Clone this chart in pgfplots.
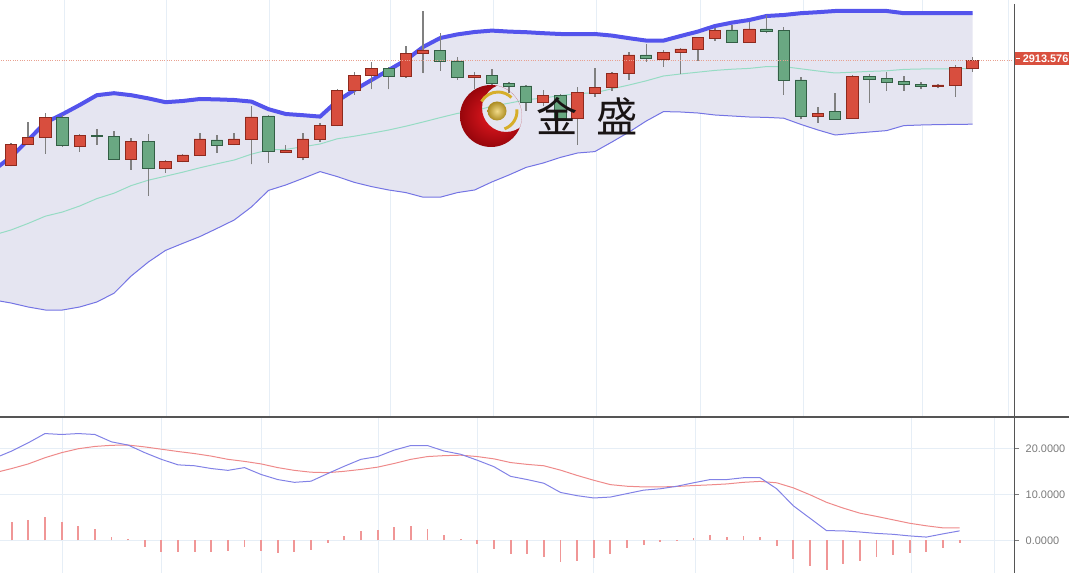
\documentclass[border=0pt]{standalone}
\usepackage{pgfplots}
\pgfplotsset{compat=1.18}
\usepackage{pgfplotstable}
\usepgfplotslibrary{fillbetween}
\usepackage{fontspec}
\setmainfont{Liberation Sans}
\newfontfamily\cjk{Noto Sans CJK SC}

\definecolor{upc}{HTML}{D84E3E}
\definecolor{upd}{HTML}{8E2A1E}
\definecolor{dnc}{HTML}{6AA882}
\definecolor{dnd}{HTML}{335F45}
\definecolor{wickc}{HTML}{808080}
\definecolor{bandu}{HTML}{5454EC}
\definecolor{bandl}{HTML}{7474E4}
\definecolor{bandm}{HTML}{96DCC4}
\definecolor{bandf}{HTML}{E5E5F1}
\definecolor{gridc}{HTML}{E6EEF6}
\definecolor{axc}{HTML}{555555}
\definecolor{pricec}{HTML}{E8A090}
\definecolor{labc}{HTML}{D9503F}
\definecolor{difc}{HTML}{8282E6}
\definecolor{deac}{HTML}{EE8A8A}
\definecolor{histc}{HTML}{F09696}
\definecolor{tickc}{HTML}{7A7A7A}
\definecolor{goldc}{HTML}{D6AE2A}
\definecolor{goldball}{HTML}{E8C23A}
\definecolor{logored}{HTML}{EC1A22}
\definecolor{logodark}{HTML}{98060C}

% candles: index, open, high, low, close
\pgfplotstableread{
i open high low close
-1 2857.6 2868.6 2852.1 2866.1
0 2860.8 2871.9 2860.4 2871.5
1 2871.5 2882.5 2871.1 2875.0
2 2875.0 2887.3 2866.6 2885.0
3 2885.0 2886.1 2870.3 2870.8
4 2870.5 2876.6 2867.8 2876.0
5 2876.0 2879.1 2871.3 2875.3
6 2875.5 2878.3 2863.6 2864.0
7 2864.0 2874.5 2858.6 2872.8
8 2872.8 2876.6 2845.8 2859.5
9 2859.5 2863.4 2857.3 2863.0
10 2862.8 2866.5 2862.5 2866.1
11 2865.8 2877.3 2865.5 2874.1
12 2873.6 2876.1 2867.3 2870.8
13 2871.3 2877.1 2871.0 2874.1
14 2874.1 2890.6 2861.4 2885.1
15 2885.6 2886.1 2862.3 2867.8
16 2867.6 2871.1 2867.4 2868.5
17 2865.1 2877.0 2863.5 2874.1
18 2874.1 2882.0 2872.8 2881.0
19 2880.8 2899.0 2880.5 2898.3
20 2898.3 2907.5 2896.1 2906.0
21 2905.8 2912.5 2899.0 2909.5
22 2909.5 2910.3 2899.0 2905.5
23 2905.3 2920.6 2904.8 2917.0
24 2917.0 2938.3 2907.0 2918.6
25 2918.3 2927.0 2908.1 2913.1
26 2913.1 2915.0 2903.6 2905.0
27 2905.0 2907.8 2899.0 2905.8
28 2905.8 2909.1 2900.3 2902.0
29 2902.0 2902.8 2897.3 2900.5
30 2900.6 2901.1 2888.1 2892.5
31 2892.5 2898.6 2890.6 2896.0
32 2896.0 2896.5 2883.6 2884.5
33 2884.5 2900.0 2871.1 2897.3
34 2897.1 2909.5 2895.3 2900.0
35 2900.0 2907.6 2898.1 2907.0
36 2907.0 2917.5 2903.6 2916.1
37 2916.1 2921.6 2912.6 2914.3
38 2914.0 2918.6 2910.3 2917.3
39 2917.3 2919.8 2906.6 2919.1
40 2919.0 2925.3 2913.1 2925.0
41 2924.5 2929.5 2923.3 2928.3
42 2928.6 2931.1 2922.1 2922.6
43 2922.6 2932.8 2922.1 2929.1
44 2929.1 2936.1 2927.0 2928.0
45 2928.3 2930.0 2896.1 2903.6
46 2903.6 2905.0 2884.0 2885.3
47 2885.3 2890.0 2882.3 2887.0
48 2887.8 2897.0 2883.9 2884.1
49 2884.5 2906.1 2884.2 2905.3
50 2905.3 2906.6 2892.3 2904.0
51 2904.3 2907.8 2898.1 2902.6
52 2903.0 2905.6 2898.1 2901.5
53 2901.5 2902.8 2899.0 2900.6
54 2900.3 2901.4 2899.5 2901.1
55 2901.1 2911.1 2895.3 2909.8
56 2909.5 2915.3 2907.8 2913.576
}\ohlc

% rising candles (red)
\pgfplotstableread{
i open close
-1 2857.6 2866.1
0 2860.8 2871.5
1 2871.5 2875.0
2 2875.0 2885.0
4 2870.5 2876.0
7 2864.0 2872.8
9 2859.5 2863.0
10 2862.8 2866.1
11 2865.8 2874.1
13 2871.3 2874.1
14 2874.1 2885.1
16 2867.6 2868.5
17 2865.1 2874.1
18 2874.1 2881.0
19 2880.8 2898.3
20 2898.3 2906.0
21 2905.8 2909.5
23 2905.3 2917.0
24 2917.0 2918.6
27 2905.0 2905.8
31 2892.5 2896.0
33 2884.5 2897.3
34 2897.1 2900.0
35 2900.0 2907.0
36 2907.0 2916.1
38 2914.0 2917.3
39 2917.3 2919.1
40 2919.0 2925.0
41 2924.5 2928.3
43 2922.6 2929.1
47 2885.3 2887.0
49 2884.5 2905.3
54 2900.3 2901.1
55 2901.1 2909.8
56 2909.5 2913.576
}\up

% falling candles (green)
\pgfplotstableread{
i open close
3 2885.0 2870.8
5 2876.0 2875.3
6 2875.5 2864.0
8 2872.8 2859.5
12 2873.6 2870.8
15 2885.6 2867.8
22 2909.5 2905.5
25 2918.3 2913.1
26 2913.1 2905.0
28 2905.8 2902.0
29 2902.0 2900.5
30 2900.6 2892.5
32 2896.0 2884.5
37 2916.1 2914.3
42 2928.6 2922.6
44 2929.1 2928.0
45 2928.3 2903.6
46 2903.6 2885.3
48 2887.8 2884.1
50 2905.3 2904.0
51 2904.3 2902.6
52 2903.0 2901.5
53 2901.5 2900.6
}\down

% Bollinger bands: upper, middle, lower
\pgfplotstableread{
i u m l
-1 2858.6 2826.1 2793.6
0 2865.1 2828.6 2792.1
1 2873.6 2831.9 2790.1
2 2882.3 2835.5 2788.6
3 2886.5 2837.6 2788.6
4 2891.1 2840.6 2790.1
5 2896.0 2844.3 2792.6
6 2897.0 2847.0 2797.0
7 2896.0 2850.8 2805.6
8 2894.4 2853.5 2812.6
9 2892.5 2855.5 2818.4
10 2893.1 2857.5 2821.9
11 2894.1 2859.7 2825.3
12 2893.9 2861.7 2829.4
13 2893.6 2863.6 2833.6
14 2892.8 2866.5 2840.1
15 2889.0 2868.7 2848.4
16 2886.6 2868.9 2851.1
17 2886.0 2870.2 2854.4
18 2885.3 2871.6 2857.8
19 2893.1 2874.2 2855.3
20 2898.6 2875.5 2852.4
21 2903.6 2877.0 2850.3
22 2908.6 2878.6 2848.6
23 2913.6 2880.5 2847.3
24 2920.1 2882.6 2845.0
25 2924.6 2884.8 2845.0
26 2926.4 2886.9 2847.3
27 2927.6 2888.1 2848.6
28 2928.3 2890.5 2852.6
29 2927.8 2892.0 2856.1
30 2927.5 2893.7 2859.9
31 2927.0 2894.6 2862.1
32 2926.6 2895.8 2864.9
33 2926.5 2896.8 2867.1
34 2926.6 2897.2 2867.8
35 2925.8 2899.2 2872.6
36 2924.5 2901.1 2877.6
37 2923.3 2903.2 2883.1
38 2923.3 2905.6 2887.8
39 2925.6 2906.6 2887.6
40 2927.8 2907.5 2887.1
41 2930.6 2908.4 2886.1
42 2932.3 2909.0 2885.6
43 2933.6 2909.4 2885.1
44 2935.6 2910.3 2884.9
45 2936.1 2910.3 2884.5
46 2937.0 2909.2 2881.4
47 2937.5 2908.1 2878.6
48 2938.1 2907.1 2876.1
49 2938.1 2907.5 2876.9
50 2938.1 2907.9 2877.6
51 2938.1 2908.2 2878.3
52 2937.0 2908.9 2880.8
53 2937.0 2909.1 2881.1
54 2937.0 2909.2 2881.3
55 2937.0 2909.2 2881.4
56 2937.0 2909.3 2881.5
}\bands

% MACD: dif, dea, histogram
\pgfplotstableread{
j dif dea hist
-1 17.9 14.7 3.2
0 19.4 15.6 3.94
1 21.2 16.6 4.45
2 23.2 17.95 4.96
3 23.0 19.05 3.94
4 23.2 19.9 3.2
5 23.0 20.4 2.4
6 21.4 20.65 0.8
7 20.7 20.7 0.2
8 19.05 20.3 -1.4
9 17.6 19.8 -2.5
10 16.4 19.3 -2.6
11 16.2 18.85 -2.5
12 15.6 18.3 -2.5
13 15.2 17.6 -2.25
14 15.8 17.15 -1.45
15 14.3 16.6 -2.25
16 13.2 15.8 -2.85
17 12.6 15.2 -2.6
18 12.85 14.8 -2.1
19 14.5 14.7 -0.5
20 16.1 15.0 0.95
21 17.6 15.4 2.05
22 18.2 15.9 2.2
23 19.6 16.7 2.8
24 20.6 17.6 3.0
25 20.6 18.2 2.4
26 19.4 18.4 1.15
27 18.7 18.5 0.2
28 17.4 18.2 -0.9
29 16.0 17.7 -1.9
30 13.9 16.9 -3.05
31 13.2 16.5 -3.0
32 12.4 16.2 -3.6
33 10.4 15.25 -4.8
34 9.7 14.1 -4.4
35 9.2 13.05 -3.8
36 9.4 12.1 -3.0
37 10.15 11.75 -1.6
38 10.9 11.6 -1.0
39 11.2 11.6 -0.45
40 11.75 11.7 0.05
41 12.5 11.9 0.6
42 13.2 12.05 1.15
43 13.2 12.25 0.8
44 13.6 12.6 0.95
45 13.6 12.8 0.8
46 11.2 12.5 -1.15
47 7.5 11.4 -4.0
48 4.8 9.9 -5.55
49 2.1 8.25 -6.35
50 2.05 7.0 -5.2
51 1.8 5.9 -4.4
52 1.5 5.2 -3.6
53 1.3 4.45 -3.2
54 0.95 3.7 -2.85
55 0.7 3.15 -2.6
56 1.4 2.7 -1.6
57 2.05 2.7 -0.65
}\macd

\pgfplotsset{
  upperax/.style={at={(0pt,0pt)}, anchor=north west, scale only axis,
    width=760.5pt, height=312pt,
    xmin=-0.641, xmax=58.416, ymin=2735.6, ymax=2943.6},
}

\begin{document}
\begin{tikzpicture}
% ---------- upper panel: grid, bands, wicks ----------
\begin{axis}[upperax,
  axis line style={draw=none},
  xtick={3.1,9.03,15.04,22.11,28.09,34.11,40.13,46.14,53.1,58.07},
  xticklabels={}, ytick=\empty,
  xmajorgrids, major grid style={gridc, line width=0.75pt},
  major tick length=0pt]
\addplot[draw=none, name path=U, forget plot] table[x=i, y=u]{\bands};
\addplot[draw=none, name path=L, forget plot] table[x=i, y=l]{\bands};
\addplot[fill=bandf, draw=none] fill between[of=U and L];
\addplot[bandm, line width=0.75pt] table[x=i, y=m]{\bands};
\addplot[bandl, line width=0.75pt] table[x=i, y=l]{\bands};
\addplot[bandu, line width=3pt] table[x=i, y=u]{\bands};
\addplot[only marks, mark=*, mark size=0pt, mark options={draw=none, fill=none},
  error bars/.cd, y dir=plus, y explicit, error mark=none,
  error bar style={draw=wickc, line width=1.1pt}]
  table[x=i, y=low, y error expr=\thisrow{high}-\thisrow{low}]{\ohlc};
\end{axis}
% ---------- rising bodies ----------
\begin{axis}[upperax, hide axis, ybar stacked, bar width=0.66]
\addplot[draw=none, fill=none] table[x=i, y=open]{\up};
\addplot[fill=upc, draw=upd, line width=0.7pt] table[x=i, y expr=\thisrow{close}-\thisrow{open}]{\up};
\end{axis}
% ---------- falling bodies ----------
\begin{axis}[upperax, hide axis, ybar stacked, bar width=0.66]
\addplot[draw=none, fill=none] table[x=i, y=close]{\down};
\addplot[fill=dnc, draw=dnd, line width=0.7pt] table[x=i, y expr=\thisrow{open}-\thisrow{close}]{\down};
\end{axis}
% ---------- last price line ----------
\begin{axis}[upperax, hide axis]
\addplot[pricec, densely dotted, line width=0.75pt] coordinates {(-1,2913.576) (59,2913.576)};
\end{axis}

% ---------- lower panel: MACD ----------
\begin{axis}[at={(0pt,-312.75pt)}, anchor=north west, scale only axis,
  width=760.5pt, height=117pt,
  xmin=-0.7036, xmax=60.27, ymin=-7.11, ymax=26.8,
  axis line style={draw=none},
  xtick={3.08,8.98,15.0,22.03,27.98,35.0,41.1,47.0,54.1,59.1},
  xticklabels={}, xtick style={draw=none},
  ytick={0,10,20}, yticklabels={0.0000,10.0000,20.0000},
  ytick pos=right, yticklabel pos=right, tick align=outside,
  major tick length=3.75pt, ytick style={tickc, line width=0.75pt},
  yticklabel style={font=\fontsize{8.2}{9}\selectfont, text=tickc, anchor=west, xshift=1.5pt},
  xmajorgrids, ymajorgrids, major grid style={gridc, line width=0.75pt}]
\addplot[ycomb, histc, line width=1.4pt] table[x=j, y=hist]{\macd};
\addplot[deac, line width=0.75pt] table[x=j, y=dea]{\macd};
\addplot[difc, line width=0.75pt] table[x=j, y=dif]{\macd};
\end{axis}

% ---------- frame lines, price tag, watermark (pixel units) ----------
\begin{scope}[x=0.75pt, y=-0.75pt]
  \draw[axc, line width=1.5pt] (0,416.5) -- (1069,416.5);
  \draw[axc, line width=1.1pt] (1014.5,4) -- (1014.5,573);
  \fill[labc] (1014.5,52.3) rectangle (1085,65.3);
  \draw[white, line width=0.75pt] (1016,58.8) -- (1019.5,58.8);
  \node[anchor=west, inner sep=0, text=white, font=\bfseries\fontsize{8.2}{9}\selectfont] at (1022.5,59.2) {2913.576};
  % logo
  \begin{scope}
    \clip (491,116) circle (31);
    \shade[even odd rule, inner color=logored, outer color=logodark] (491,116) circle (31) (506,108) circle (24);
  \end{scope}
  \shade[inner color=goldball!60!white, outer color=goldc!80!black] (497,111) circle (9.5);
  \draw[goldc, line width=2.2pt] (498,111) ++(-150:19) arc[start angle=-150, end angle=-45, radius=19];
  \draw[goldc, line width=2.2pt] (498,111) ++(-5:19) arc[start angle=-5, end angle=70, radius=19];
  \node[anchor=base, inner sep=0, font=\cjk\fontsize{31}{31}\selectfont, text={rgb,255:red,25;green,20;blue,20}] at (557,133) {金};
  \node[anchor=base, inner sep=0, font=\cjk\fontsize{31}{31}\selectfont, text={rgb,255:red,25;green,20;blue,20}] at (617,133) {盛};
\end{scope}
\pgfresetboundingbox
\path[use as bounding box] (0pt,0pt) rectangle (801.75pt,-429.75pt);
\end{tikzpicture}
\end{document}
